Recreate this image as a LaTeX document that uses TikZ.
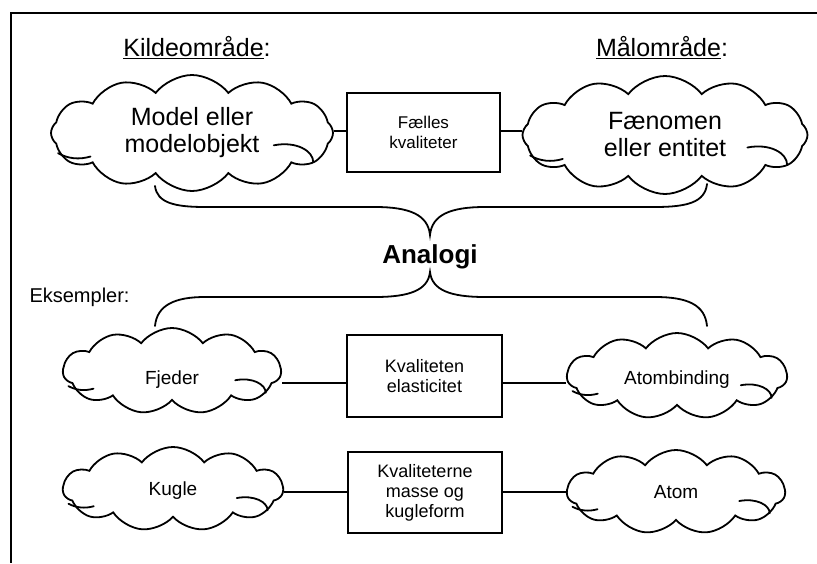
\documentclass[tikz,border=0pt]{standalone}
\usepackage{fontspec}
\setmainfont{Liberation Sans}
\usetikzlibrary{shapes.symbols,calc}
\newcommand\cloudcurls[3]{%
  \draw[curl] ($(#1.center)+(-0.95*#2,0.36*#3)$) .. controls ($(#1.center)+(-0.88*#2,0.46*#3)$) and ($(#1.center)+(-0.8*#2,0.48*#3)$) .. ($(#1.center)+(-0.72*#2,0.42*#3)$);
  \draw[curl] ($(#1.center)+(0.58*#2,0.22*#3)$) .. controls ($(#1.center)+(0.74*#2,0.14*#3)$) and ($(#1.center)+(0.86*#2,0.32*#3)$) .. ($(#1.center)+(0.86*#2,0.52*#3)$);}
\begin{document}
\begin{tikzpicture}[x=1pt,y=-1pt,
  cl/.style={cloud, cloud puffs=12, cloud puff arc=105, cloud ignores aspect, draw, line width=1.8pt, inner sep=0pt, align=center},
  bigcl/.style={cl, font=\fontsize{25}{27}\selectfont},
  smallcl/.style={cl, cloud puffs=11, font=\fontsize{19}{21}\selectfont},
  qbox/.style={draw, line width=1.3pt, align=center, inner sep=0pt, font=\fontsize{18}{20}\selectfont},
  link/.style={line width=1.8pt},
  curl/.style={line width=1.8pt, line cap=round},
  brace/.style={line width=1.8pt, line cap=round},
  head/.style={font=\fontsize{25}{27}\selectfont}]
\useasboundingbox (0,0) rectangle (817,563);
% frame
\coordinate (fr1) at (817,13);
\coordinate (fr2) at (11,13);
\coordinate (fr3) at (11,563);
\draw[line width=1.4pt] (fr1) -- (fr2) -- (fr3);
% headings
\node[head] (kilde) at (197,48) {\underline{Kildeområde}:};
\node[head] (maal) at (662,48) {\underline{Målområde}:};
% top row
\node[bigcl, minimum width=282pt, minimum height=116pt] (model) at (192,133) {Model eller\\modelobjekt};
\node[qbox, minimum width=153pt, minimum height=79pt, font=\fontsize{17}{20}\selectfont] (faelles) at (423.5,132.5) {Fælles\\kvaliteter};
\node[bigcl, minimum width=285pt, minimum height=118pt] (faen) at (665,135) {Fænomen\\eller entitet};
\cloudcurls{model}{141}{56}
\cloudcurls{faen}{142}{57}
\coordinate (t1) at (347,131);
\coordinate (t2) at (500,131);
\draw[link] (t1) -- (t1 -| model.east);
\draw[link] (t2) -- (t2 -| faen.west);
% braces
\coordinate (ub1) at (155,186);
\coordinate (ubc) at (430,235);
\coordinate (ub2) at (707,184);
\draw[brace] (ub1) .. controls (157,203) and (175,207) .. (205,207) -- (375,207)
  .. controls (410,207) and (428,215) .. (ubc)
  .. controls (432,215) and (450,207) .. (485,207) -- (655,207)
  .. controls (688,207) and (705,202) .. (ub2);
\node[font=\bfseries\fontsize{26}{28}\selectfont] (analogi) at (430,257) {Analogi};
\coordinate (lb1) at (155,326);
\coordinate (lbc) at (430,272);
\coordinate (lb2) at (707,326);
\draw[brace] (lb1) .. controls (157,305) and (175,297) .. (205,297) -- (375,297)
  .. controls (410,297) and (428,290) .. (lbc)
  .. controls (432,290) and (450,297) .. (485,297) -- (655,297)
  .. controls (688,297) and (705,305) .. (lb2);
\node[anchor=west, font=\fontsize{20}{22}\selectfont] (eks) at (26,297) {Eksempler:};
% middle row
\node[smallcl, minimum width=218pt, minimum height=86pt] (fjeder) at (172,371) {\raisebox{-9pt}[\height][\depth]{Fjeder}};
\node[qbox, minimum width=155pt, minimum height=82pt] (elast) at (424.5,376) {Kvaliteten\\elasticitet};
\node[smallcl, minimum width=220pt, minimum height=86pt] (atomb) at (677,376) {\raisebox{-4pt}[\height][\depth]{Atombinding}};
\cloudcurls{fjeder}{109}{42}
\cloudcurls{atomb}{110}{42}
\coordinate (m1) at (347,383);
\coordinate (m2) at (502,383);
\draw[link] (m1) -- (m1 -| fjeder.east);
\draw[link] (m2) -- (m2 -| atomb.west);
% bottom row
\node[smallcl, minimum width=220pt, minimum height=84pt] (kugle) at (173,489) {\raisebox{-2pt}[\height][\depth]{Kugle}};
\node[qbox, minimum width=154pt, minimum height=81pt] (masse) at (425,492.5) {Kvaliteterne\\masse og\\kugleform};
\node[smallcl, minimum width=218pt, minimum height=84pt] (atom) at (676,492) {Atom};
\cloudcurls{kugle}{110}{41}
\cloudcurls{atom}{109}{41}
\coordinate (b1) at (348,492);
\coordinate (b2) at (502,492);
\draw[link] (b1) -- (b1 -| kugle.east);
\draw[link] (b2) -- (b2 -| atom.west);
\end{tikzpicture}
\end{document}
